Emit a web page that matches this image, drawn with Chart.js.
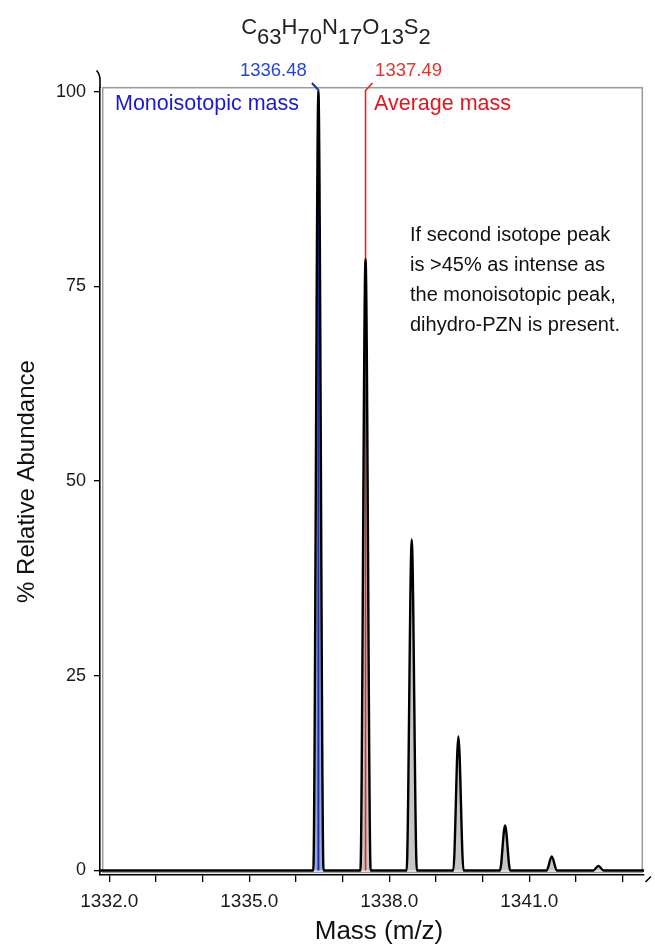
<!DOCTYPE html>
<html>
<head>
<meta charset="utf-8">
<script src="https://cdn.jsdelivr.net/npm/chart.js@4.4.1/dist/chart.umd.min.js"></script>
<style>
  html, body { margin: 0; padding: 0; background: #fff; }
  canvas { display: block; }
</style>
</head>
<body>
<canvas id="spectrumChart" width="655" height="949"></canvas>
<script>
// isotope envelope of C63H70N17O13S2
const peakMasses = [1336.48, 1337.49, 1338.48, 1339.48, 1340.48, 1341.48, 1342.48];
const peakAbundance = [100, 78.5, 42.5, 17.2, 5.8, 1.8, 0.6];
const monoisotopicMass = 1336.48;
const averageMass = 1337.49;

const xTickLabels = ['1332.0', '1335.0', '1338.0', '1341.0'];
const xMinorTicks = [1333, 1334, 1336, 1337, 1339, 1340, 1342, 1343];
const yTickLabels = ['0', '25', '50', '75', '100'];

const formulaParts = [['C', '63'], ['H', '70'], ['N', '17'], ['O', '13'], ['S', '2']];
const noteLines = [
  'If second isotope peak',
  'is >45% as intense as',
  'the monoisotopic peak,',
  'dihydro-PZN is present.'
];

const FONT = "'Liberation Sans', Arial, Helvetica, sans-serif";
const X_MIN = 1331.80;
const X_MAX = 1343.457;
const PEAK_HALF_WIDTH = 0.11;

// profile trace: flat baseline with a smooth peak on each isotope
const trace = [{ x: X_MIN, y: 0 }];
peakMasses.forEach((mass, i) => {
  trace.push({ x: mass - PEAK_HALF_WIDTH, y: 0 });
  trace.push({ x: mass, y: peakAbundance[i] });
  trace.push({ x: mass + PEAK_HALF_WIDTH, y: 0 });
});
trace.push({ x: X_MAX, y: 0 });

const inMonoPeak = (ctx) =>
  ctx.p0.parsed.x >= monoisotopicMass - PEAK_HALF_WIDTH - 1e-6 &&
  ctx.p1.parsed.x <= monoisotopicMass + PEAK_HALF_WIDTH + 1e-6;

const frameAndMarkers = {
  id: 'frameAndMarkers',
  beforeDatasetsDraw(chart) {
    const { ctx, chartArea } = chart;
    ctx.save();
    ctx.strokeStyle = '#9a9a9a';
    ctx.lineWidth = 1.5;
    ctx.strokeRect(chartArea.left + 2.7, chartArea.top - 0.3, chartArea.width - 4.4, chartArea.height - 2.3);
    ctx.restore();
  },
  afterDatasetDraw(chart, args) {
    if (args.index !== 1) return;
    const { ctx } = chart;
    const x = chart.scales.x;
    const y = chart.scales.y;
    const base = y.getPixelForValue(0);

    const bx = x.getPixelForValue(monoisotopicMass);
    ctx.save();
    ctx.lineWidth = 2;
    ctx.strokeStyle = '#1d2fa6';
    ctx.beginPath();
    ctx.moveTo(bx, base);
    ctx.lineTo(bx, 90);
    ctx.lineTo(bx - 6.5, 83);
    ctx.stroke();

    const rx = x.getPixelForValue(averageMass);
    ctx.lineWidth = 1.6;
    ctx.strokeStyle = '#e5261f';
    ctx.beginPath();
    ctx.moveTo(rx, base);
    ctx.lineTo(rx, 90.5);
    ctx.lineTo(rx + 7, 83);
    ctx.stroke();
    ctx.restore();
  },
  afterDraw(chart) {
    const { ctx, chartArea } = chart;
    const x = chart.scales.x;
    ctx.save();

    // broken-axis ends
    ctx.strokeStyle = '#000';
    ctx.lineWidth = 1.6;
    ctx.beginPath();
    ctx.moveTo(chartArea.left, chartArea.top);
    ctx.lineTo(chartArea.left, 80);
    ctx.quadraticCurveTo(chartArea.left, 74, chartArea.left - 3.5, 70.5);
    ctx.stroke();
    ctx.beginPath();
    ctx.moveTo(chartArea.right + 1.5, 882);
    ctx.lineTo(chartArea.right + 7, 876.5);
    ctx.stroke();

    // formula with subscripts
    ctx.font = '22px ' + FONT;
    ctx.fillStyle = '#222';
    ctx.textBaseline = 'alphabetic';
    let total = 0;
    formulaParts.forEach(([el, n]) => { total += ctx.measureText(el + n).width; });
    let cx = 336 - total / 2;
    formulaParts.forEach(([el, n]) => {
      ctx.fillText(el, cx, 33.5);
      cx += ctx.measureText(el).width;
      ctx.fillText(n, cx, 43.5);
      cx += ctx.measureText(n).width;
    });

    // x axis title, sitting a little right of the plot centre
    ctx.font = '26px ' + FONT;
    ctx.fillStyle = '#111';
    ctx.textAlign = 'center';
    ctx.textBaseline = 'middle';
    ctx.fillText('Mass (m/z)', 379, 932);

    // peak mass labels
    ctx.font = '18.5px ' + FONT;
    ctx.fillStyle = '#2444d8';
    ctx.fillText(monoisotopicMass.toFixed(2), x.getPixelForValue(monoisotopicMass) - 45, 71);
    ctx.fillStyle = '#e5332b';
    ctx.fillText(averageMass.toFixed(2), x.getPixelForValue(averageMass) + 43, 71);

    ctx.font = '21.5px ' + FONT;
    ctx.textAlign = 'left';
    ctx.textBaseline = 'alphabetic';
    ctx.fillStyle = '#1818d6';
    ctx.fillText('Monoisotopic mass', 115, 109.5);
    ctx.fillStyle = '#e8141c';
    ctx.fillText('Average mass', 374, 109.5);

    ctx.font = '20px ' + FONT;
    ctx.fillStyle = '#111';
    ctx.textBaseline = 'middle';
    noteLines.forEach((line, i) => ctx.fillText(line, 410, 235 + i * 30));
    ctx.restore();
  }
};

new Chart(document.getElementById('spectrumChart').getContext('2d'), {
  type: 'line',
  data: {
    datasets: [{
      data: trace,
      borderColor: '#000',
      borderWidth: 2.4,
      pointRadius: 0,
      fill: false,
      cubicInterpolationMode: 'monotone',
      order: 1
    }, {
      data: trace,
      borderWidth: 0,
      pointRadius: 0,
      backgroundColor: '#c6c6c6',
      fill: 'origin',
      cubicInterpolationMode: 'monotone',
      segment: {
        backgroundColor: (ctx) => (inMonoPeak(ctx) ? '#97a9e2' : undefined)
      },
      order: 2
    }]
  },
  options: {
    responsive: false,
    animation: false,
    layout: { padding: { top: 88, right: 11, left: 0, bottom: 0 } },
    plugins: {
      legend: { display: false },
      tooltip: { enabled: false }
    },
    scales: {
      x: {
        type: 'linear',
        min: X_MIN,
        max: X_MAX,
        afterBuildTicks: (scale) => {
          const values = xTickLabels.map(Number).concat(xMinorTicks).sort((a, b) => a - b);
          scale.ticks = values.map((value) => ({ value }));
        },
        afterFit: (scale) => { scale.height = 74; },
        ticks: {
          autoSkip: false,
          maxRotation: 0,
          padding: 8,
          color: '#1a1a1a',
          font: { family: FONT, size: 19 },
          callback: (value) => xTickLabels.find((l) => Number(l) === value) || ''
        },
        grid: { drawOnChartArea: false, drawTicks: true, tickLength: 7, color: '#000', lineWidth: 1.3 },
        border: { display: true, color: '#000', width: 1.6 },
        title: { display: false }
      },
      y: {
        min: -0.578,
        max: 100.475,
        afterBuildTicks: (scale) => {
          scale.ticks = yTickLabels.map((l) => ({ value: Number(l) }));
        },
        afterFit: (scale) => { scale.width = 100; },
        ticks: {
          padding: 8,
          color: '#1a1a1a',
          font: { family: FONT, size: 18 },
          callback: (value) => yTickLabels.find((l) => Number(l) === value) || ''
        },
        grid: { drawOnChartArea: false, drawTicks: true, tickLength: 6, color: '#000', lineWidth: 1.3 },
        border: { display: true, color: '#000', width: 1.6 },
        title: {
          display: true,
          text: '% Relative Abundance',
          color: '#111',
          font: { family: FONT, size: 24 },
          padding: { top: 12.6, bottom: 0 }
        }
      }
    }
  },
  plugins: [frameAndMarkers]
});
</script>
</body>
</html>
